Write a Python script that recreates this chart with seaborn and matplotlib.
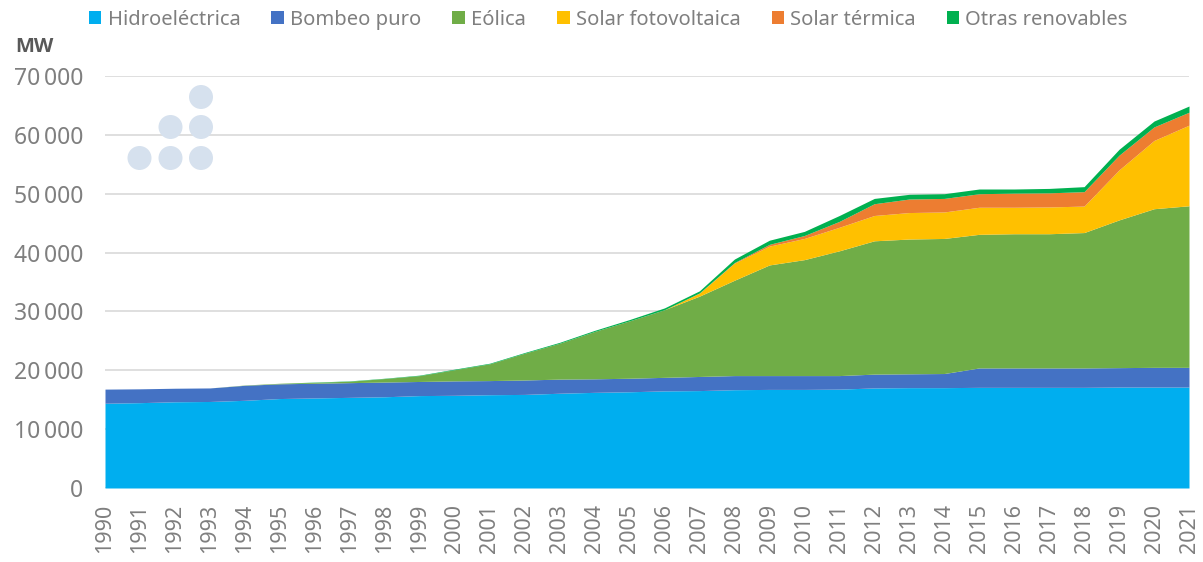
import matplotlib
matplotlib.use("Agg")
import matplotlib.pyplot as plt
import seaborn as sns
from matplotlib.patches import Circle, Patch

years = list(range(1990, 2022))
labels = ["Hidroeléctrica", "Bombeo puro", "Eólica", "Solar fotovoltaica", "Solar térmica", "Otras renovables"]
colors = ["#00AEEF", "#4472C4", "#70AD47", "#FFC000", "#ED7D31", "#00B050"]

hidro = [14400,14500,14650,14700,14900,15200,15300,15400,15500,15700,15750,15850,15900,16100,16250,16350,
         16500,16550,16700,16750,16750,16800,17000,17050,17050,17100,17100,17100,17100,17150,17150,17150]
bombeo = [2400,2350,2300,2300,2550,2500,2500,2500,2500,2400,2450,2400,2450,2400,2300,2300,
          2300,2400,2400,2350,2350,2300,2350,2350,2400,3300,3300,3300,3300,3300,3350,3350]
eolica = [0,0,0,0,50,100,150,250,600,1000,1900,2850,4550,6100,8050,9750,
          11500,13650,16200,18800,19700,21200,22650,22900,22950,22700,22800,22800,23000,25100,26950,27450]
fotovoltaica = [0,0,0,0,0,0,0,0,0,0,0,0,0,0,0,0,
                0,500,2900,3200,3600,4000,4300,4500,4500,4600,4500,4550,4500,8500,11600,13700]
termica = [0,0,0,0,0,0,0,0,0,0,0,0,0,0,0,0,
           0,50,100,300,500,1000,2000,2300,2300,2300,2400,2400,2450,2500,2300,2200]
otras = [0,0,0,0,0,0,50,50,50,80,100,100,120,150,180,220,
         300,350,600,700,700,1000,900,800,800,800,700,750,850,1000,1000,1050]

W, H = 1203, 562
sns.set_theme(style="white")
plt.rcParams["font.family"] = ["Noto Sans", "DejaVu Sans"]
grey = "#7F7F7F"

fig = plt.figure(figsize=(W / 100, H / 100), dpi=100)
ax = fig.add_axes([105 / W, 1 - 488 / H, (1189 - 105) / W, (488 - 76) / H])
ax.stackplot(years, hidro, bombeo, eolica, fotovoltaica, termica, otras, colors=colors, linewidth=0, zorder=3)
ax.set_xlim(1990, 2021)
ax.set_ylim(0, 70000)
ax.yaxis.grid(True, color="#D9D9D9", linewidth=1.2, zorder=0)
ax.xaxis.grid(False)
sns.despine(ax=ax, left=True, bottom=True, top=True, right=True)
ax.set_xticks(years)
ax.set_xticklabels([str(y) for y in years], rotation=90, fontsize=15.5, color=grey)
yt = list(range(0, 70001, 10000))
ax.set_yticks(yt)
ax.set_yticklabels([f"{v:,}".replace(",", "\u2009") for v in yt], fontsize=16.5, color=grey)
ax.tick_params(axis="y", length=0, pad=15.5)
ax.tick_params(axis="x", length=0, pad=11.5)

# logo: circles placed in figure pixels
for cx, cy in [(139.5, 158), (170.5, 158), (201, 158), (170.5, 127), (201, 127), (201, 97)]:
    fig.add_artist(Circle((cx, H - cy), 12, transform=None, facecolor="#D6E1EE", edgecolor="none"))

fig.text(15 / W, 1 - 47 / H, "MW", fontsize=14.5, fontweight="bold", family="Open Sans", color="#595959",
         va="center", ha="left")

handles = [Patch(facecolor=c, edgecolor="none") for c in colors]
fig.legend(handles, labels, loc="center left", bbox_to_anchor=(89 / W, 1 - 20 / H), ncol=6, frameon=False,
           fontsize=14.5, labelcolor=grey, handlelength=0.62, handleheight=0.62, handletextpad=0.3,
           columnspacing=1.55, borderpad=0, borderaxespad=0)

fig.savefig("out.png", dpi=100)
